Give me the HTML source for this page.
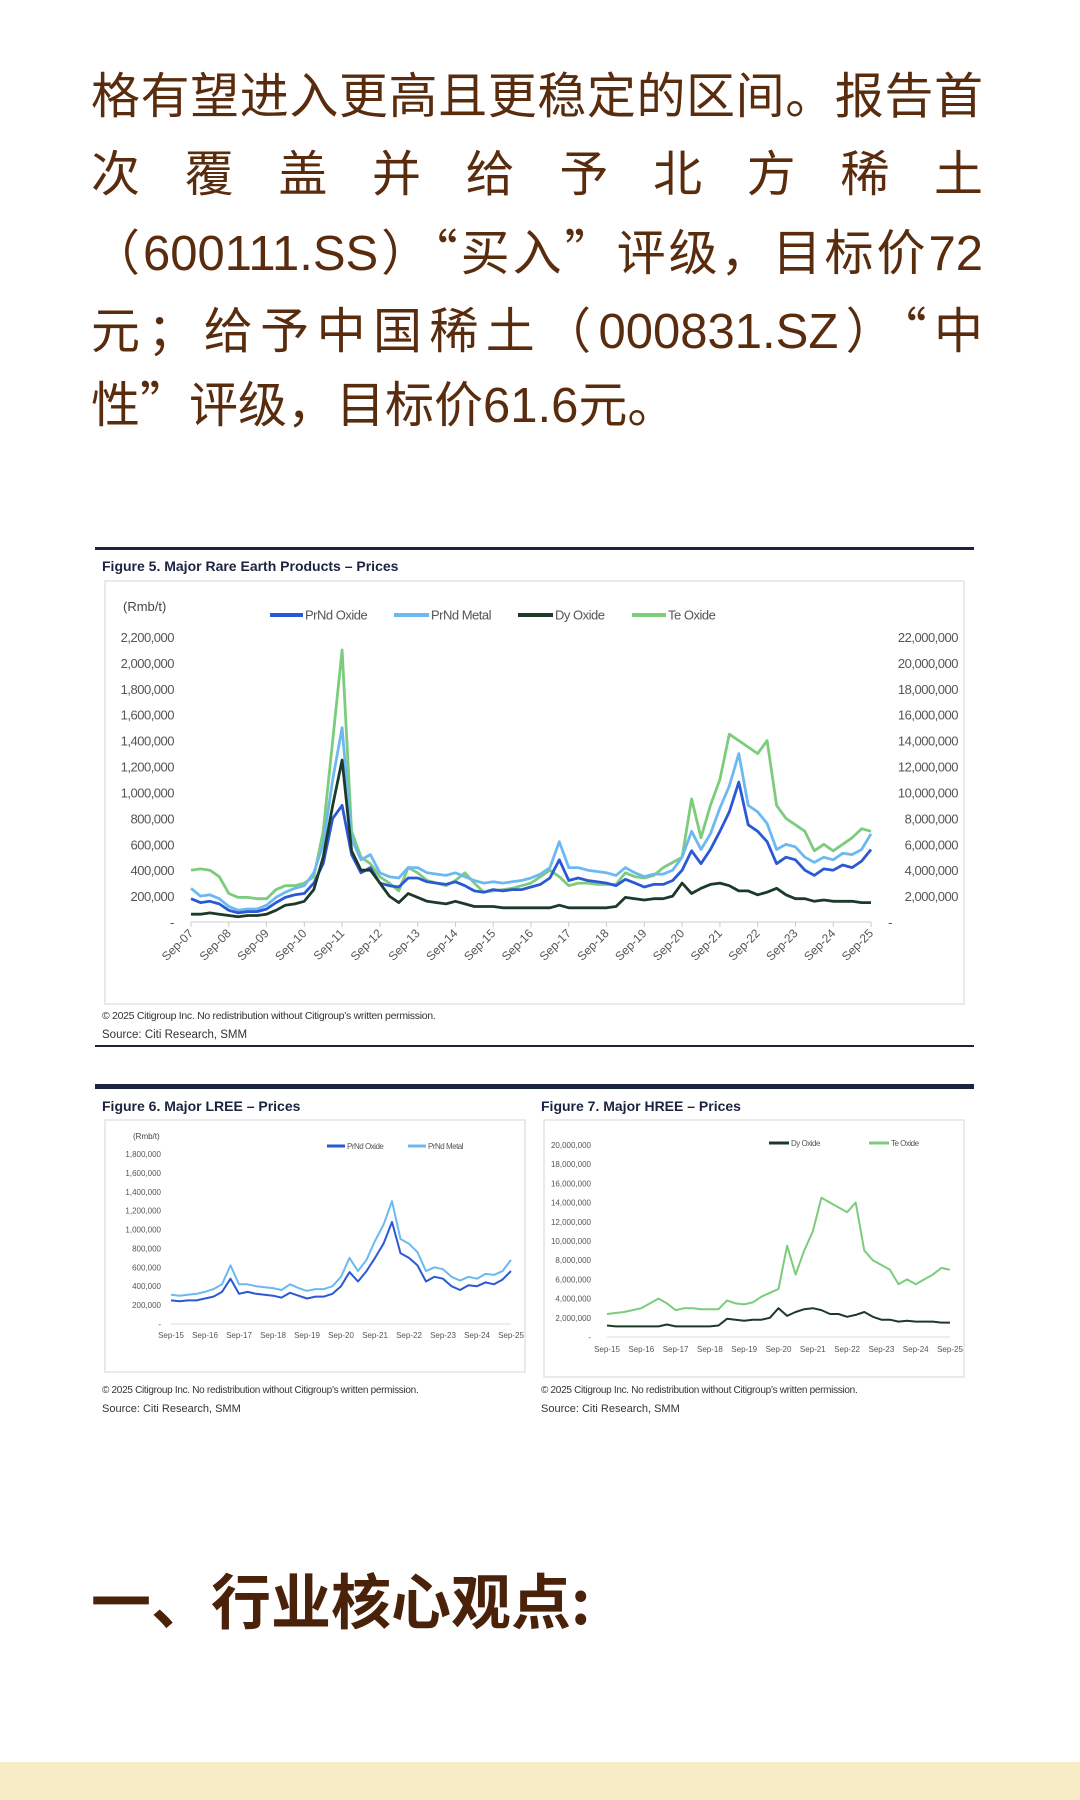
<!DOCTYPE html>
<html><head><meta charset="utf-8">
<style>
body{margin:0;background:#fff;}
#page{position:relative;width:1080px;height:1800px;overflow:hidden;background:#fff;font-family:"Liberation Sans","Noto Sans CJK SC",sans-serif;}
.pl{position:absolute;left:91px;width:892px;font-size:49px;color:#5a2c0e;line-height:60px;white-space:nowrap;font-family:"Liberation Sans","Noto Sans CJK SC",sans-serif;}
.q{font-family:"Noto Sans CJK SC",sans-serif;}
.j{text-align:justify;text-align-last:justify;}
#heading{position:absolute;left:91px;top:1555px;font-size:60px;font-weight:bold;color:#4a220a;font-family:"Noto Sans CJK SC",sans-serif;}
#strip{position:absolute;left:0;top:1762px;width:1080px;height:38px;background:#f7ecc6;}
svg{position:absolute;left:0;top:0;}
</style></head><body>
<div id="page">
<div class="pl j" style="top:67px">格有望进入更高且更稳定的区间。报告首</div>
<div class="pl j" style="top:145px">次覆盖并给予北方稀土</div>
<div class="pl j" style="top:220px">（600111.SS）<span class="q">“</span>买入<span class="q">”</span>评级，目标价72</div>
<div class="pl j" style="top:298px">元；给予中国稀土（000831.SZ）<span class="q">“</span>中</div>
<div class="pl" style="top:372px">性<span class="q">”</span>评级，目标价61.6元。</div>
<div id="heading">一、行业核心观点:</div>
<div id="strip"></div>
<svg id="charts" width="1080" height="1800"></svg>
</div>
<script>
const prndOxide=[180,150,160,140, 90,70,80,80, 100,150,190,210, 220,300,450,800, 900,520,380,420, 300,280,270,340, 340,310,300,290, 310,280,240,230, 250,240,250,250, 270,290,340,480, 320,340,320,310, 300,280,330,300, 270,290,290,320, 400,550,450,560, 700,850,1080,750, 700,620,450,500, 480,400,360,410, 400,440,420,470, 560];
const prndMetal=[260,200,210,180, 120,90,100,100, 130,190,230,260, 280,380,600,1100, 1500,640,480,520, 380,350,340,420, 420,380,370,360, 380,350,320,300, 310,300,310,320, 340,370,420,620, 420,420,400,390, 380,360,420,380, 350,370,370,400, 500,700,560,680, 880,1050,1300,900, 850,760,560,600, 580,500,460,500, 480,530,520,560, 680];
const dyOxide=[0.6,0.6,0.7,0.6, 0.5,0.4,0.5,0.5, 0.6,0.9,1.3,1.4, 1.6,2.5,5,9, 12.5,5.5,4,4, 3,2,1.5,2.2, 1.9,1.6,1.5,1.4, 1.6,1.4,1.2,1.2, 1.2,1.1,1.1,1.1, 1.1,1.1,1.1,1.3, 1.1,1.1,1.1,1.1, 1.1,1.2,1.9,1.8, 1.7,1.8,1.8,2, 3,2.2,2.6,2.9, 3,2.8,2.4,2.4, 2.1,2.3,2.6,2.1, 1.8,1.8,1.6,1.7, 1.6,1.6,1.6,1.5, 1.5];
const teOxide=[4,4.1,4,3.5, 2.2,1.9,1.9,1.8, 1.8,2.5,2.8,2.8, 3,3.5,7,14, 21,7,5,4.5, 3.5,3,2.4,4.2, 3.8,3.2,3,2.8, 3.2,3.8,3,2.3, 2.4,2.5,2.6,2.8, 3,3.5,4,3.5, 2.8,3,3,2.9, 2.9,2.9,3.8,3.5, 3.4,3.6,4.2,4.6, 5,9.5,6.5,9, 11,14.5,14,13.5, 13,14,9,8, 7.5,7,5.5,6, 5.5,6,6.5,7.2, 7];
const yearLabels=['Sep-07','Sep-08','Sep-09','Sep-10','Sep-11','Sep-12','Sep-13','Sep-14','Sep-15','Sep-16','Sep-17','Sep-18','Sep-19','Sep-20','Sep-21','Sep-22','Sep-23','Sep-24','Sep-25'];
const leftTicks=['-','200,000','400,000','600,000','800,000','1,000,000','1,200,000','1,400,000','1,600,000','1,800,000','2,000,000','2,200,000'];
const rightTicks=['-','2,000,000','4,000,000','6,000,000','8,000,000','10,000,000','12,000,000','14,000,000','16,000,000','18,000,000','20,000,000','22,000,000'];
const lreeTicks=['-','200,000','400,000','600,000','800,000','1,000,000','1,200,000','1,400,000','1,600,000','1,800,000'];
const hreeTicks=['-','2,000,000','4,000,000','6,000,000','8,000,000','10,000,000','12,000,000','14,000,000','16,000,000','18,000,000','20,000,000'];
const lreeOxide=prndOxide.slice(32), lreeMetal=prndMetal.slice(32);
const hreeDy=dyOxide.slice(32), hreeTe=teOxide.slice(32);
const lreeYears=yearLabels.slice(8);

const NS='http://www.w3.org/2000/svg';
const svg=document.getElementById('charts');
function mk(tag,attrs,parent){const e=document.createElementNS(NS,tag);for(const k in attrs)e.setAttribute(k,attrs[k]);(parent||svg).appendChild(e);return e;}
function txt(x,y,s,attrs){const t=mk('text',Object.assign({x:x,y:y,'font-family':'Liberation Sans, sans-serif'},attrs||{}));t.textContent=s;return t;}
const C={ox:'#2b59d6',me:'#6cb9f2',dy:'#1d3a29',te:'#7ccc7c'};

function frame(x0,x1,y,thick){const r=mk('rect',{x:x0,y:y,width:x1-x0,height:thick,fill:'#1c2340'});}
function box(x,y,w,h){const r=mk('rect',{x:x,y:y,width:w,height:h,fill:'none',stroke:'#e3e3e3','stroke-width':1.5});}

function series(vals,xs,ys,color,w,name){
  const n=vals.length;let d='';
  vals.forEach((v,i)=>{d+=(i?'L':'M')+xs(i/(n-1)).toFixed(1)+','+ys(v).toFixed(1);});
  const p=mk('path',{d:d,fill:'none',stroke:color,'stroke-width':w,'stroke-linejoin':'round'});
  
  
}
function legend(x1,x2,y,color,label,fs,name){
  const l=mk('line',{x1:x1,x2:x2,y1:y,y2:y,stroke:color,'stroke-width':fs>10?4:3});
  
  const t=txt(x2+2,y+fs*0.35,label,{'font-size':fs,fill:'#555','letter-spacing':-0.5});
  
}

// ---------- Figure 5 ----------
frame(95,974,547,3);
let t=txt(102,571,'Figure 5. Major Rare Earth Products – Prices',{'font-size':14,'font-weight':'bold',fill:'#1c2340'});

box(105,581,859,423);
{
 const X0=191,X1=871,Y0=922,Y1=637;
 const xs=f=>X0+f*(X1-X0);
 const yl=v=>Y0-(v/2200)*(Y0-Y1);
 const yr=v=>Y0-(v/22)*(Y0-Y1);
 t=txt(123,611,'(Rmb/t)',{'font-size':13,fill:'#444'});
 leftTicks.forEach((s,i)=>{const e=txt(174,Y0-i*(Y0-Y1)/11+5,s,{'font-size':13,fill:'#555','text-anchor':'end','letter-spacing':-0.5});});
 rightTicks.forEach((s,i)=>{const e=txt(i?958:892,Y0-i*(Y0-Y1)/11+5,s,{'font-size':13,fill:'#555','text-anchor':'end','letter-spacing':-0.5});});
 mk('line',{x1:X0,x2:X1,y1:Y0,y2:Y0,stroke:'#ccc','stroke-width':1});
 yearLabels.forEach((s,i)=>{const x=X0+i*(X1-X0)/(yearLabels.length-1);
   mk('line',{x1:x,x2:x,y1:Y0,y2:Y0+5,stroke:'#ccc'});
   const e=txt(x+3,Y0+12,s,{'font-size':12,fill:'#555','text-anchor':'end',transform:'rotate(-45 '+(x+3)+' '+(Y0+12)+')'});
   });
 series(teOxide,xs,yr,C.te,2.8,'te-oxide-line');
 series(prndMetal,xs,yl,C.me,2.8,'prnd-metal-line');
 series(prndOxide,xs,yl,C.ox,2.8,'prnd-oxide-line');
 series(dyOxide,xs,yr,C.dy,2.8,'dy-oxide-line');
 legend(270,303,615,C.ox,'PrNd Oxide',13,'legend-prnd-oxide');
 legend(394,429,615,C.me,'PrNd Metal',13,'legend-prnd-metal');
 legend(518,553,615,C.dy,'Dy Oxide',13,'legend-dy-oxide');
 legend(632,666,615,C.te,'Te Oxide',13,'legend-te-oxide');
}
t=txt(102,1019,'© 2025 Citigroup Inc. No redistribution without Citigroup\u2019s written permission.',{'font-size':10.5,fill:'#333','letter-spacing':-0.3});
t=txt(102,1038,'Source: Citi Research, SMM',{'font-size':11.5,fill:'#333'});
frame(95,974,1045,2);

// ---------- Figures 6 & 7 ----------
frame(95,974,1084,5);
t=txt(102,1111,'Figure 6. Major LREE – Prices',{'font-size':14,'font-weight':'bold',fill:'#1c2340'});
t=txt(541,1111,'Figure 7. Major HREE – Prices',{'font-size':14,'font-weight':'bold',fill:'#1c2340'});
box(105,1120,420,252);
box(544,1120,420,257);
{
 const X0=171,X1=511,Y0=1324,Y1=1154;
 const xs=f=>X0+f*(X1-X0);
 const ys=v=>Y0-(v/1800)*(Y0-Y1);
 t=txt(133,1139,'(Rmb/t)',{'font-size':8,fill:'#444'});
 lreeTicks.forEach((s,i)=>{const e=txt(161,Y0-i*(Y0-Y1)/9+3,s,{'font-size':8,fill:'#555','text-anchor':'end'});});
 mk('line',{x1:X0,x2:X1,y1:Y0,y2:Y0,stroke:'#ddd'});
 lreeYears.forEach((s,i)=>{const x=X0+i*(X1-X0)/(lreeYears.length-1);const e=txt(x,1338,s,{'font-size':8,fill:'#555','text-anchor':'middle'});});
 series(lreeMetal,xs,ys,C.me,2,'lree-prnd-metal-line');
 series(lreeOxide,xs,ys,C.ox,2,'lree-prnd-oxide-line');
 legend(327,345,1146,C.ox,'PrNd Oxide',8,'lree-legend-oxide');
 legend(408,426,1146,C.me,'PrNd Metal',8,'lree-legend-metal');
}
{
 const X0=607,X1=950,Y0=1337,Y1=1145;
 const xs=f=>X0+f*(X1-X0);
 const ys=v=>Y0-(v/20)*(Y0-Y1);
 hreeTicks.forEach((s,i)=>{const e=txt(591,Y0-i*(Y0-Y1)/10+3,s,{'font-size':8,fill:'#555','text-anchor':'end'});});
 mk('line',{x1:X0,x2:X1,y1:Y0,y2:Y0,stroke:'#ddd'});
 lreeYears.forEach((s,i)=>{const x=X0+i*(X1-X0)/(lreeYears.length-1);const e=txt(x,1352,s,{'font-size':8,fill:'#555','text-anchor':'middle'});});
 series(hreeTe,xs,ys,C.te,2,'hree-te-oxide-line');
 series(hreeDy,xs,ys,C.dy,2,'hree-dy-oxide-line');
 legend(769,789,1143,C.dy,'Dy Oxide',8,'hree-legend-dy');
 legend(869,889,1143,C.te,'Te Oxide',8,'hree-legend-te');
}
t=txt(102,1393,'© 2025 Citigroup Inc. No redistribution without Citigroup\u2019s written permission.',{'font-size':10,fill:'#333','letter-spacing':-0.3});
t=txt(102,1412,'Source: Citi Research, SMM',{'font-size':11,fill:'#333'});
t=txt(541,1393,'© 2025 Citigroup Inc. No redistribution without Citigroup\u2019s written permission.',{'font-size':10,fill:'#333','letter-spacing':-0.3});
t=txt(541,1412,'Source: Citi Research, SMM',{'font-size':11,fill:'#333'});
</script>
</body></html>
